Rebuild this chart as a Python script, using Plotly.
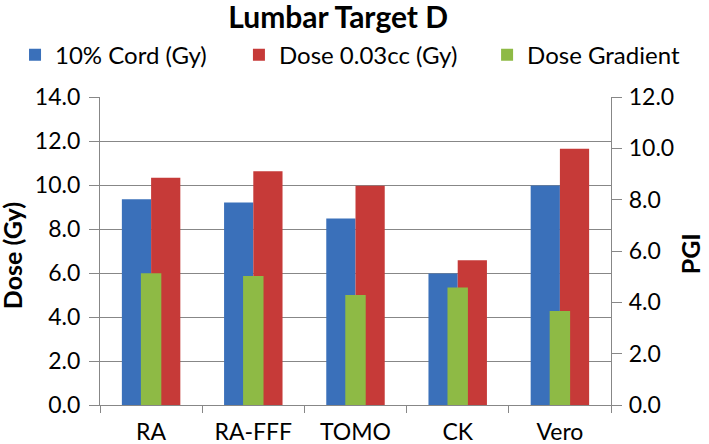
import plotly.graph_objects as go

categories = ["RA", "RA-FFF", "TOMO", "CK", "Vero"]
cord_10pct = [9.35, 9.2, 8.48, 5.98, 9.98]
dose_003cc = [10.33, 10.63, 9.97, 6.58, 11.65]
dose_gradient = [5.13, 5.03, 4.29, 4.58, 3.66]
y_ticks = [0, 2, 4, 6, 8, 10, 12, 14]
y2_ticks = [0, 2, 4, 6, 8, 10, 12]

FONT = "Lato"
BLUE = "#3A70BA"
RED = "#C63A38"
GREEN = "#8EBA45"
GRAY = "#878787"

fig = go.Figure()
fig.add_trace(go.Bar(x=categories, y=cord_10pct, name="10% Cord (Gy)",
                     marker=dict(color=BLUE, line=dict(width=0)),
                     width=0.286, offset=-0.286, legend="legend", showlegend=True))
fig.add_trace(go.Bar(x=categories, y=dose_003cc, name="Dose 0.03cc (Gy)",
                     marker=dict(color=RED, line=dict(width=0)),
                     width=0.286, offset=0, legend="legend2", showlegend=True))
fig.add_trace(go.Bar(x=categories, y=dose_gradient, name="Dose Gradient",
                     marker=dict(color=GREEN, line=dict(width=0)),
                     width=0.2, offset=-0.1, yaxis="y2", legend="legend3", showlegend=True))

leg = dict(orientation="h", xref="container", yref="paper", y=1.136, yanchor="middle",
           xanchor="left", font=dict(size=24, family=FONT), bgcolor="rgba(0,0,0,0)",
           visible=True)

fig.update_layout(
    width=709, height=444,
    showlegend=True,
    margin=dict(l=100, r=98, t=97, b=39, autoexpand=False),
    paper_bgcolor="white", plot_bgcolor="white",
    barmode="overlay",
    font=dict(family=FONT, color="black", size=23),
    title=dict(text="<b>Lumbar Target D</b>", x=0.477, xanchor="center",
               y=0.96, yanchor="middle", font=dict(size=30, family=FONT),
               automargin=False),
    legend=dict(leg, x=0.0212),
    legend2=dict(leg, x=0.337),
    legend3=dict(leg, x=0.687),
    xaxis=dict(showline=True, linecolor=GRAY, linewidth=1.3,
               ticks="outside", tickson="boundaries", ticklen=7, tickcolor=GRAY,
               tickwidth=1.3, tickfont=dict(size=23), showgrid=False, automargin=False,
               ticklabelstandoff=6),
    yaxis=dict(range=[0, 14], tickvals=y_ticks, tickformat=".1f",
               showline=True, linecolor=GRAY, linewidth=1.3,
               ticks="outside", ticklen=10, tickcolor=GRAY, tickwidth=1.3,
               showgrid=True, gridcolor=GRAY, gridwidth=1.3,
               zeroline=False, tickfont=dict(size=23), automargin=False,
               ticklabelstandoff=4),
    yaxis2=dict(range=[0, 12], tickvals=y2_ticks, tickformat=".1f", overlaying="y", side="right",
                showline=True, linecolor=GRAY, linewidth=1.3,
                ticks="outside", ticklen=10, tickcolor=GRAY, tickwidth=1.3,
                showgrid=False, zeroline=False, tickfont=dict(size=23), automargin=False,
                ticklabelstandoff=2),
    annotations=[
        dict(text="<b>Dose (Gy)</b>", textangle=-90, xref="paper", yref="paper",
             x=-0.173, y=0.485, xanchor="center", yanchor="middle", showarrow=False,
             font=dict(size=25, family=FONT)),
        dict(text="<b>PGI</b>", textangle=-90, xref="paper", yref="paper",
             x=1.155, y=0.49, xanchor="center", yanchor="middle", showarrow=False,
             font=dict(size=25, family=FONT)),
    ],
)

fig.write_html("out.html", config={"displayModeBar": False},
               post_script="document.body.style.margin='0';")
